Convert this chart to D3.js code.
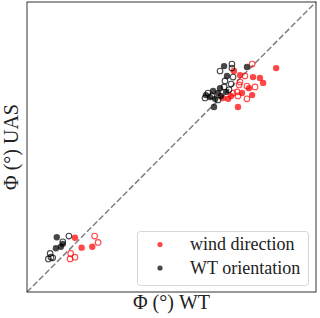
<!DOCTYPE html>
<html>
<head>
<meta charset="utf-8">
<script src="https://cdn.jsdelivr.net/npm/d3@7"></script>
<style>
  html, body { margin: 0; padding: 0; background: #fff; }
  svg { display: block; }
</style>
</head>
<body>
<div id="chart"></div>
<script>
// ============================================================
// Data (Φ in arbitrary degree units)
// ============================================================

// wind direction, filled markers: [WT, UAS]
const windFilled = [
  [86.2, 77.2], [71.6, 76.2], [73.7, 74.8], [78.2, 74.1], [80.6, 73.8],
  [81.7, 72.1], [76.8, 70.3], [77.9, 67.9], [73.0, 63.8], [69.6, 66.6],
  [67.8, 66.9], [70.6, 67.6], [74.4, 68.6],
  [16.6, 18.7], [18.9, 15.3], [22.6, 15.6],
];
// wind direction, open markers
const windOpen = [
  [77.9, 78.6], [75.4, 74.5], [73.7, 72.4], [76.1, 71.0], [78.9, 70.7],
  [72.7, 69.0], [71.3, 68.6], [73.0, 67.6], [76.1, 66.6], [73.4, 71.4],
  [23.4, 19.3], [24.6, 17.1], [15.1, 13.3], [14.9, 11.4], [16.6, 12.0],
];
// WT orientation, filled markers
const wtFilled = [
  [68.2, 77.9], [76.1, 77.6], [69.2, 74.5], [64.4, 69.3], [66.1, 68.6],
  [61.9, 67.9], [63.3, 67.2], [65.1, 66.6], [67.1, 67.6], [68.9, 69.0],
  [64.7, 63.8], [66.8, 70.3],
  [10.3, 18.9], [10.0, 15.1], [11.7, 15.6], [12.4, 16.6],
];
// WT orientation, open markers
const wtOpen = [
  [70.9, 78.6], [70.9, 77.2], [66.8, 76.2], [68.5, 72.8], [71.3, 74.1],
  [70.6, 71.7], [62.6, 68.6], [61.6, 66.9], [64.0, 67.6], [66.1, 66.2],
  [68.2, 70.7], [69.9, 69.7],
  [14.5, 19.3], [12.4, 17.3], [8.0, 13.3], [8.3, 12.0], [7.4, 11.4], [8.9, 11.8],
];

const domain = [0, 100];
const legendLabels = ["wind direction", "WT orientation"];
const xLabel = "Φ (°) WT";
const yLabel = "Φ (°) UAS";

// ============================================================
// Colors
// ============================================================

const COLORS = {
  wind: "rgba(255,0,0,0.72)",
  wt:   "rgba(0,0,0,0.72)",
  diag: "#808080",
  frame: "#333",
};

// ============================================================
// Layout
// ============================================================

const W = 320, H = 318;
const margin = { left: 27, right: 4, top: 2, bottom: 26 };
const FONT = "'Liberation Serif', 'DejaVu Serif', serif";

const svg = d3.select("#chart").append("svg")
  .attr("width", W)
  .attr("height", H);

const x = d3.scaleLinear().domain(domain).range([margin.left, W - margin.right]);
const y = d3.scaleLinear().domain(domain).range([H - margin.bottom, margin.top]);

// --- diagonal 1:1 line ---
svg.append("line")
  .attr("x1", x(domain[0])).attr("y1", y(domain[0]))
  .attr("x2", x(domain[1])).attr("y2", y(domain[1]))
  .attr("stroke", COLORS.diag)
  .attr("stroke-width", 1.5)
  .attr("stroke-dasharray", "6,2.5");

// --- points ---
const pts = svg.append("g");

function drawFilled(data, color) {
  pts.append("g").selectAll("circle")
    .data(data)
    .join("circle")
    .attr("cx", (d) => x(d[0]))
    .attr("cy", (d) => y(d[1]))
    .attr("r", 3.2)
    .attr("fill", color);
}

function drawOpen(data, color) {
  pts.append("g").selectAll("circle")
    .data(data)
    .join("circle")
    .attr("cx", (d) => x(d[0]))
    .attr("cy", (d) => y(d[1]))
    .attr("r", 2.8)
    .attr("fill", "none")
    .attr("stroke", color)
    .attr("stroke-width", 1.1);
}

drawFilled(windFilled, COLORS.wind);
drawOpen(windOpen, COLORS.wind);
drawFilled(wtFilled, COLORS.wt);
drawOpen(wtOpen, COLORS.wt);

// --- frame ---
svg.append("rect")
  .attr("x", x(domain[0])).attr("y", y(domain[1]))
  .attr("width", x(domain[1]) - x(domain[0]))
  .attr("height", y(domain[0]) - y(domain[1]))
  .attr("fill", "none")
  .attr("stroke", COLORS.frame)
  .attr("stroke-width", 1);

// --- axis labels ---
svg.append("text")
  .attr("x", (x(domain[0]) + x(domain[1])) / 2)
  .attr("y", H - 9)
  .attr("text-anchor", "middle")
  .attr("font-family", FONT)
  .attr("font-size", "20px")
  .attr("fill", "#222")
  .text(xLabel);

svg.append("text")
  .attr("transform", `translate(${18},${(y(domain[0]) + y(domain[1])) / 2}) rotate(-90)`)
  .attr("text-anchor", "middle")
  .attr("font-family", FONT)
  .attr("font-size", "20px")
  .attr("fill", "#222")
  .text(yLabel);

// --- legend ---
const lg = svg.append("g");
lg.append("rect")
  .attr("x", 137.5).attr("y", 231.5)
  .attr("width", 171).attr("height", 54)
  .attr("rx", 3)
  .attr("fill", "rgba(255,255,255,0.85)")
  .attr("stroke", "#d6d6d6")
  .attr("stroke-width", 1);

const legendColors = [COLORS.wind, COLORS.wt];
legendLabels.forEach((label, i) => {
  const cy = 244.5 + i * 23.5;
  lg.append("circle")
    .attr("cx", 160).attr("cy", cy)
    .attr("r", 2.6)
    .attr("fill", legendColors[i]);
  lg.append("text")
    .attr("x", 190).attr("y", cy + 5.5)
    .attr("font-family", FONT)
    .attr("font-size", "18px")
    .attr("fill", "#222")
    .text(label);
});
</script>
</body>
</html>
